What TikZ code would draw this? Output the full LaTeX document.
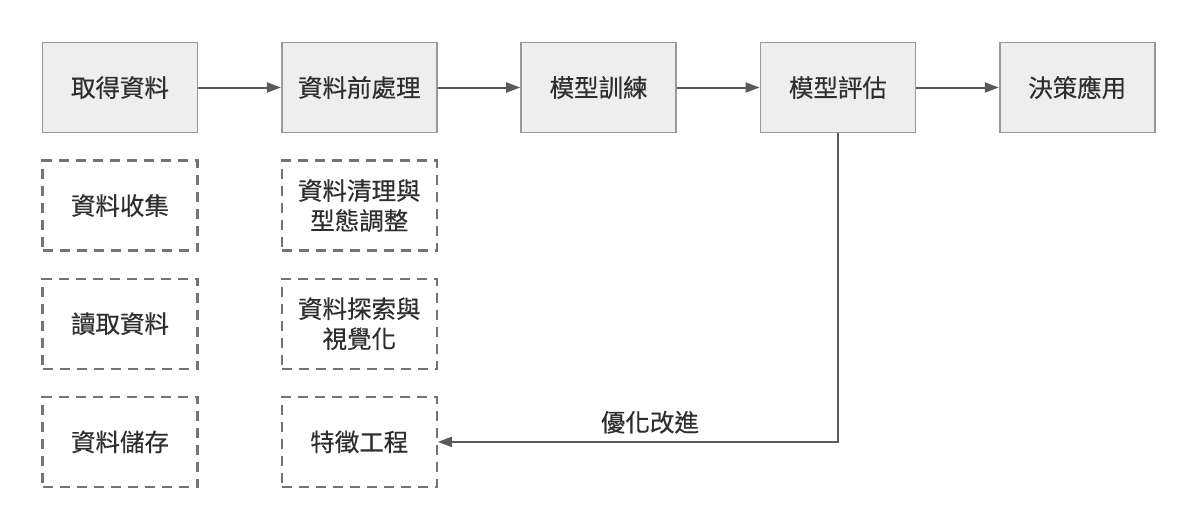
\documentclass[tikz,border=0pt]{standalone}
\usepackage{fontspec}
\usepackage{xcolor}
\usepackage{tikz}
\usetikzlibrary{arrows.meta, positioning}
\newfontfamily\cjk[FakeBold=0.4]{Noto Sans CJK TC}
\definecolor{boxfill}{HTML}{EEEEEE}
\definecolor{boxline}{HTML}{999999}
\definecolor{arrowgray}{HTML}{5A5A5A}
\definecolor{textgray}{HTML}{2E2E2E}

\begin{document}
\begin{tikzpicture}[
  node distance=26pt and 82.5pt,
  stage/.style={rectangle, draw=boxline, fill=boxfill, line width=1.8pt, minimum width=155pt,
                minimum height=90pt, font=\fontsize{24.5}{30}\selectfont\cjk, text=textgray},
  task/.style={rectangle, draw=arrowgray!85, line width=2.2pt, dash pattern=on 10pt off 7pt,
               minimum width=155pt, minimum height=90pt, align=center,
               font=\fontsize{24.5}{30}\selectfont\cjk, text=textgray},
  edge/.style={-{Triangle[length=14pt,width=10pt]}, line width=2pt, draw=arrowgray},
]
  \useasboundingbox (0,0) rectangle (1203pt,-520pt);
  \node[stage] (G) at (120pt,-87.5pt) {取得資料};
  \node[stage, right=of G] (P) {資料前處理};
  \node[stage, right=of P] (T) {模型訓練};
  \node[stage, right=of T] (E) {模型評估};
  \node[stage, right=of E] (D) {決策應用};

  \node[task, below=of G] (G1) {資料收集};
  \node[task, below=of G1] (G2) {讀取資料};
  \node[task, below=of G2] (G3) {資料儲存};
  \node[task, below=of P] (P1) {資料清理與\\型態調整};
  \node[task, below=of P1] (P2) {資料探索與\\視覺化};
  \node[task, below=of P2] (P3) {特徵工程};

  \draw[edge] (G) -- (P);
  \draw[edge] (P) -- (T);
  \draw[edge] (T) -- (E);
  \draw[edge] (E) -- (D);
  \draw[edge] (E.south) |- (P3.east)
    node[pos=0.735, above, yshift=4pt, font=\fontsize{24.5}{30}\selectfont\cjk, text=textgray]{優化改進};
\end{tikzpicture}
\end{document}
